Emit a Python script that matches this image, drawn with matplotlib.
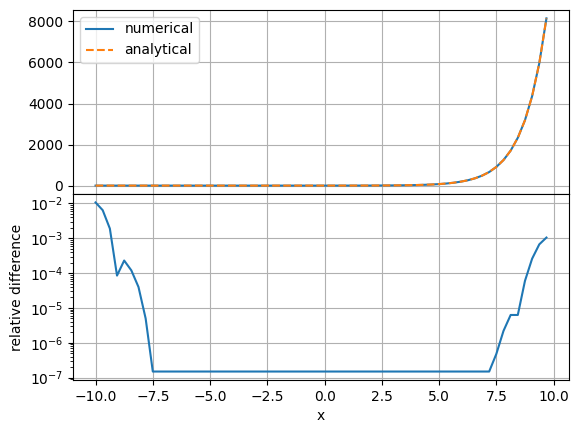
import numpy as np
import matplotlib
matplotlib.use('Agg')
import matplotlib.pyplot as plt

# sample grid
x = np.arange(-10, 9.7, 0.3125)

# function values (numerical and analytical overlap)
values_neg = [0.0] * 18 + [0.01, 0.01, 0.01, 0.02, 0.02, 0.03, 0.04, 0.06,
                           0.08, 0.10, 0.14, 0.20, 0.27, 0.37]
values_pos = [0.5, 0.68, 0.93, 1.28, 1.75, 2.39, 3.26, 4.46, 6.09, 8.32,
              11.4, 15.6, 21.3, 29.1, 39.7, 54.3, 74.2, 101, 139, 190,
              259, 354, 484, 661, 910, 1245, 1705, 2330, 3185, 4360,
              5960, 8150]
numerical = values_neg + values_pos
analytical = values_neg + values_pos

# relative difference
rel_left = [1.07e-2, 6.4e-3, 1.9e-3, 8.5e-5, 2.3e-4, 1.2e-4, 4e-5, 5e-6]
rel_flat = [1.5e-7] * 48
rel_right = [4.8e-7, 2.2e-6, 6.3e-6, 6.3e-6, 6e-5, 2.6e-4, 6.7e-4, 1.05e-3]
rel_diff = rel_left + rel_flat + rel_right

fig = plt.figure(figsize=(5.78, 4.32), dpi=100)
ax1 = fig.add_axes([0.1263, 0.551, 0.8581, 0.4259])
ax2 = fig.add_axes([0.1263, 0.1204, 0.8581, 0.4306], sharex=ax1)

ax1.plot(x, numerical, label='numerical')
ax1.plot(x, analytical, '--', label='analytical')
ax1.legend(loc='upper left')
ax1.grid(True)
ax1.tick_params(labelbottom=False)

ax2.semilogy(x, rel_diff)
ax2.set_ylabel('relative difference')
ax2.set_xlabel('x')
ax2.grid(True)

fig.savefig('out.png', dpi=100)
